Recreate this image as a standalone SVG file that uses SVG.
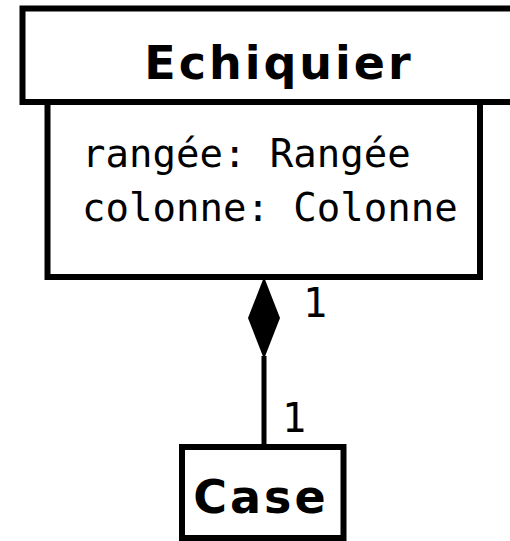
<svg xmlns="http://www.w3.org/2000/svg" width="510" height="541" viewBox="0 0 510 541">
  <style>
    .box { fill: #ffffff; stroke: #000000; stroke-width: 6; }
    .title { font-family: "DejaVu Sans", "Liberation Sans", sans-serif; font-weight: bold; font-size: 46px; letter-spacing: 3px; fill: #000000; text-anchor: middle; }
    .attr { font-family: "DejaVu Sans Mono", "Liberation Mono", monospace; font-size: 39px; fill: #000000; }
    .mult { font-family: "DejaVu Sans Mono", "Liberation Mono", monospace; font-size: 40px; fill: #000000; }
    .edge { stroke: #000000; stroke-width: 5; fill: none; }
  </style>
  <rect width="510" height="541" fill="#ffffff"/>
  <g id="connectors">
    <line class="edge" x1="264" y1="356" x2="264" y2="447"/>
    <polygon points="264,277 280,318 264,359 248,318" fill="#000000"/>
    <text class="mult" x="303" y="317">1</text>
    <text class="mult" x="282" y="432">1</text>
  </g>
  <g id="Echiquier">
    <rect class="box" x="47.5" y="102" width="432.5" height="175"/>
    <rect class="box" x="22.5" y="8.5" width="500" height="93.5"/>
    <text class="title" x="279" y="79">Echiquier</text>
    <text class="attr" x="82" y="167">rangée: Rangée</text>
    <text class="attr" x="82" y="221">colonne: Colonne</text>
  </g>
  <g id="Case">
    <rect class="box" x="182" y="447" width="161.5" height="91"/>
    <text class="title" x="261" y="513">Case</text>
  </g>
</svg>
